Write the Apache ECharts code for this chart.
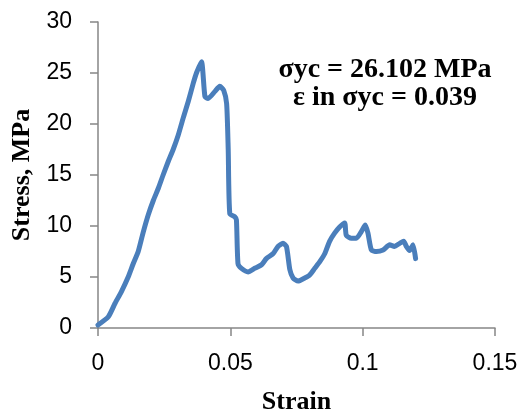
<!DOCTYPE html>
<html><head><meta charset="utf-8">
<script src="https://cdn.jsdelivr.net/npm/echarts@6/dist/echarts.min.js"></script>
<style>html,body{margin:0;padding:0;background:#fff}#c{width:519px;height:413px}</style>
</head><body><div id="c"></div>
<script>
const strain = [0,0.0039,0.0064,0.0089,0.0114,0.0133,0.0152,0.0171,0.019,0.0209,0.0228,0.0246,0.0265,0.0284,0.0303,0.0322,0.0341,0.036,0.0372,0.0391,0.0404,0.0416,0.0442,0.046,0.0475,0.0486,0.0492,0.0498,0.0517,0.0523,0.0529,0.0542,0.0567,0.0592,0.0618,0.0636,0.0662,0.068,0.0699,0.0712,0.0725,0.0737,0.0756,0.0781,0.08,0.0819,0.0838,0.0857,0.0875,0.0894,0.0913,0.0932,0.0938,0.0957,0.0976,0.0995,0.101,0.102,0.1033,0.1052,0.1077,0.1102,0.112,0.114,0.1155,0.1165,0.1177,0.119,0.12];
const stress = [0.3,1.1,2.4,3.6,5.0,6.3,7.5,9.4,11.1,12.5,13.7,15.0,16.3,17.5,18.9,20.6,22.2,24.0,25.0,26.1,22.7,22.5,23.2,23.7,23.3,22.0,17.5,11.2,10.9,10.6,6.3,5.85,5.5,5.85,6.2,6.8,7.3,8.0,8.3,8.0,5.7,4.9,4.6,4.9,5.2,5.85,6.5,7.3,8.5,9.3,9.9,10.3,9.1,8.8,8.8,9.45,10.1,9.3,7.65,7.5,7.65,8.15,8.0,8.3,8.5,8.0,7.6,8.15,6.8];
const xTicks = [0,0.05,0.1,0.15];
const yTicks = [0,5,10,15,20,25,30];
const annotationLines = ['σyc = 26.102 MPa','ε in σyc = 0.039'];

const chart = echarts.init(document.getElementById('c'), null, {renderer:'canvas'});
const axisColor = '#868686';
const labelFont = {color:'#000', fontSize:23, fontFamily:'Liberation Sans, Arial, sans-serif'};
const titleFont = {fontSize:26, fontWeight:'bold', fontFamily:'Liberation Serif, Times New Roman, serif', color:'#000'};
chart.setOption({
  animation:false,
  grid:{left:98, right:24, top:22, bottom:85, containLabel:false, outerBoundsMode:'none'},
  xAxis:{type:'value', min:0, max:0.15, interval:0.05,
    axisLine:{show:true, onZero:false, lineStyle:{color:axisColor, width:1.5}},
    axisTick:{show:true, length:8, lineStyle:{color:axisColor, width:1.5}},
    splitLine:{show:false},
    axisLabel:Object.assign({margin:24, formatter:v=>String(+v.toFixed(2))}, labelFont),
    name:'Strain', nameLocation:'middle', nameGap:61, nameTextStyle:titleFont},
  yAxis:{type:'value', min:0, max:30, interval:5,
    axisLine:{show:true, lineStyle:{color:axisColor, width:1.5}},
    axisTick:{show:true, length:8, lineStyle:{color:axisColor, width:1.5}},
    splitLine:{show:false},
    axisLabel:Object.assign({margin:26}, labelFont),
    name:'Stress, MPa', nameLocation:'middle', nameGap:60, nameRotate:90, nameTextStyle:titleFont},
  series:[{type:'line', data:strain.map((x,i)=>[x,stress[i]]), showSymbol:false, smooth:0.2,
    lineStyle:{color:'#4a7ebb', width:5, join:'round', cap:'round'}}],
  graphic:[{type:'text', x:385, y:84, style:{text:annotationLines.join('\n'),
    align:'center', verticalAlign:'middle', textAlign:'center', textVerticalAlign:'middle',
    fontSize:28, fontWeight:'bold', fontFamily:'"Liberation Serif", "Times New Roman", serif', lineHeight:28, fill:'#000'}}]
});
</script></body></html>
